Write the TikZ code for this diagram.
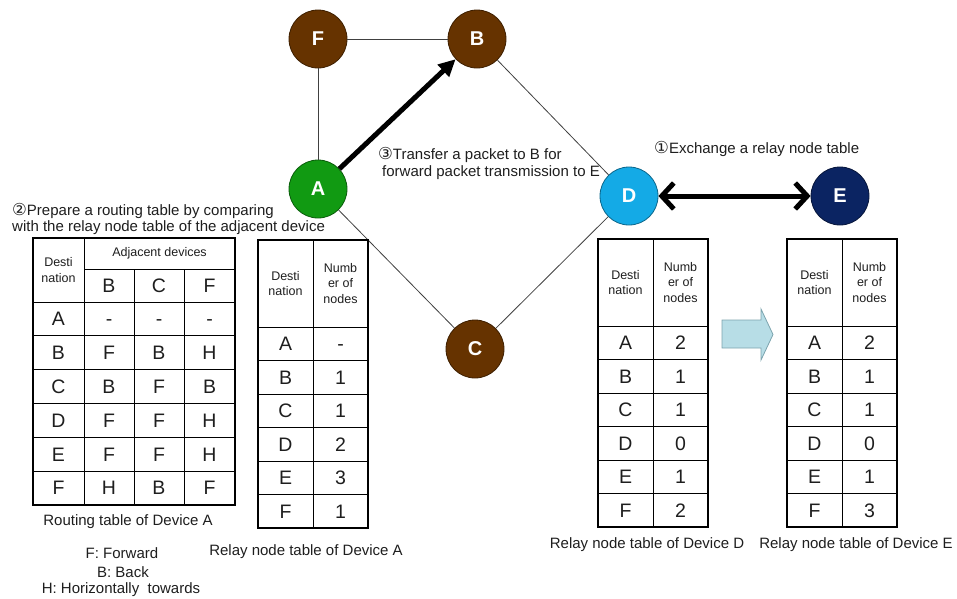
\documentclass[tikz,border=0pt]{standalone}
\usepackage{fontspec}
\setmainfont{Liberation Sans}
\newfontfamily\symfont{DejaVu Sans}
\usetikzlibrary{arrows.meta}

\definecolor{brownnode}{HTML}{663300}
\definecolor{greennode}{HTML}{119A12}
\definecolor{bluenode}{HTML}{14AAE6}
\definecolor{navynode}{HTML}{0B2462}
\definecolor{blockfill}{HTML}{B7DDE6}
\definecolor{blockdraw}{HTML}{7CA4AE}
\definecolor{txt}{HTML}{1E1E1E}

\tikzset{
  device/.style={circle, minimum size=58pt, inner sep=0pt, draw=#1!60!black,
    fill=#1, text=white, line width=0.8pt,
    font=\fontsize{20}{20}\selectfont\bfseries},
  link/.style={line width=0.8pt, draw=black!75},
  cell/.style={font=\fontsize{19.5}{19.5}\selectfont, inner sep=0pt,
    text height=14pt, text depth=0pt, text=txt},
  head/.style={font=\fontsize{12.5}{15.5}\selectfont, align=center,
    inner sep=0pt, text=txt},
  caption/.style={font=\fontsize{15}{15}\selectfont, inner sep=0pt, text=txt},
  frame/.style={line width=2.6pt},
  gridline/.style={line width=0.8pt},
}

% relay node table: name, list of destination/count pairs
\newcommand\relaytable[2]{%
  \draw[gridline] (55,0) -- (55,288);
  \foreach \k in {0,...,5} \draw[gridline] (0,87+33.5*\k) -- (110,87+33.5*\k);
  \draw[frame] (0,0) rectangle (110,288);
  \node[head] (#1-h1) at (27.5,43.5) {Desti\\nation};
  \node[head] (#1-h2) at (82.5,43.5) {Numb\\er of\\nodes};
  \foreach \d/\v [count=\i] in {#2} {
    \node[cell] (#1-d\i) at (27.5,87+33.5*\i-16.75) {\d};
    \node[cell] (#1-v\i) at (82.5,87+33.5*\i-16.75) {\v};
  }%
}

\begin{document}
\begin{tikzpicture}[x=1pt,y=-1pt]
\useasboundingbox (0,0) rectangle (957,598);

% devices
\node[device=brownnode] (F) at (318,39) {F};
\node[device=brownnode] (B) at (477,39) {B};
\node[device=greennode] (A) at (318,189) {A};
\node[device=brownnode] (C) at (475,349) {C};
\node[device=bluenode]  (D) at (629,196) {D};
\node[device=navynode]  (E) at (840,196) {E};

% links
\draw[link] (F) -- (B);
\draw[link] (F) -- (A);
\draw[link] (B) -- (D);
\draw[link] (A) -- (C);
\draw[link] (C) -- (D);

% packet transfer and table exchange
\draw[line width=5pt, -{Triangle[length=17pt,width=16pt]}] (A) -- (B);
\draw[line width=5pt, {Straight Barb[length=12pt,width=26pt]}-{Straight Barb[length=12pt,width=26pt]}]
  (D) -- (E);

% step notes
\node[caption, anchor=base west] (n1) at (654,153) {{\symfont\fontsize{16.5}{16.5}\selectfont ①}Exchange a relay node table};
\node[caption, anchor=base west] (n3a) at (378,159) {{\symfont\fontsize{16.5}{16.5}\selectfont ③}Transfer a packet to B for};
\node[caption, anchor=base west] (n3b) at (382,176) {forward packet transmission to E};
\node[caption, anchor=base west] (n2a) at (12,215) {{\symfont\fontsize{16.5}{16.5}\selectfont ②}Prepare a routing table by comparing};
\node[caption, anchor=base west] (n2b) at (12,231) {with the relay node table of the adjacent device};

% routing table of device A
\begin{scope}[shift={(33,238)}]
  \draw[gridline] (51,0) -- (51,266.8);
  \draw[gridline] (101,31) -- (101,266.8);
  \draw[gridline] (151,31) -- (151,266.8);
  \draw[gridline] (51,31) -- (202,31);
  \foreach \k in {0,...,5} \draw[gridline] (0,64+33.8*\k) -- (202,64+33.8*\k);
  \draw[frame] (0,0) rectangle (202,266.8);
  \node[head] (rt-h) at (25.5,32) {Desti\\nation};
  \node[head] (rt-adj) at (126.5,15.5) {Adjacent devices};
  \node[cell] (rt-b) at (76,47.5) {B};
  \node[cell] (rt-c) at (126,47.5) {C};
  \node[cell] (rt-f) at (176.5,47.5) {F};
  \foreach \d/\x/\y/\z [count=\i] in {A/-/-/-, B/F/B/H, C/B/F/B, D/F/F/H, E/F/F/H, F/H/B/F} {
    \node[cell] (rt-d\i) at (25.5,64+33.8*\i-16.9) {\d};
    \node[cell] (rt-x\i) at (76,64+33.8*\i-16.9) {\x};
    \node[cell] (rt-y\i) at (126,64+33.8*\i-16.9) {\y};
    \node[cell] (rt-z\i) at (176.5,64+33.8*\i-16.9) {\z};
  }
\end{scope}

% relay node tables
\begin{scope}[shift={(258,240)}]
  \relaytable{ta}{A/-, B/1, C/1, D/2, E/3, F/1}
\end{scope}
\begin{scope}[shift={(598,239)}]
  \relaytable{td}{A/2, B/1, C/1, D/0, E/1, F/2}
\end{scope}
\begin{scope}[shift={(787,239)}]
  \relaytable{te}{A/2, B/1, C/1, D/0, E/1, F/3}
\end{scope}

% update arrow between tables D and E
\draw[blockdraw, fill=blockfill, line width=0.8pt]
  (722,320) -- (761,320) -- (761,309) -- (773,334.5) -- (761,360)
  -- (761,348) -- (722,348) -- cycle;

% table captions
\node[caption, anchor=base] (cap-rt) at (128,525) {Routing table of Device A};
\node[caption, anchor=base] (cap-ta) at (306,555) {Relay node table of Device A};
\node[caption, anchor=base] (cap-td) at (647,548) {Relay node table of Device D};
\node[caption, anchor=base] (cap-te) at (856,548) {Relay node table of Device E};

% legend
\node[caption, anchor=base] (lg-f) at (122,558) {F: Forward};
\node[caption, anchor=base] (lg-b) at (123,577) {B: Back};
\node[caption, anchor=base] (lg-h) at (121,593) {H: Horizontally\ \ towards};
\end{tikzpicture}
\end{document}
